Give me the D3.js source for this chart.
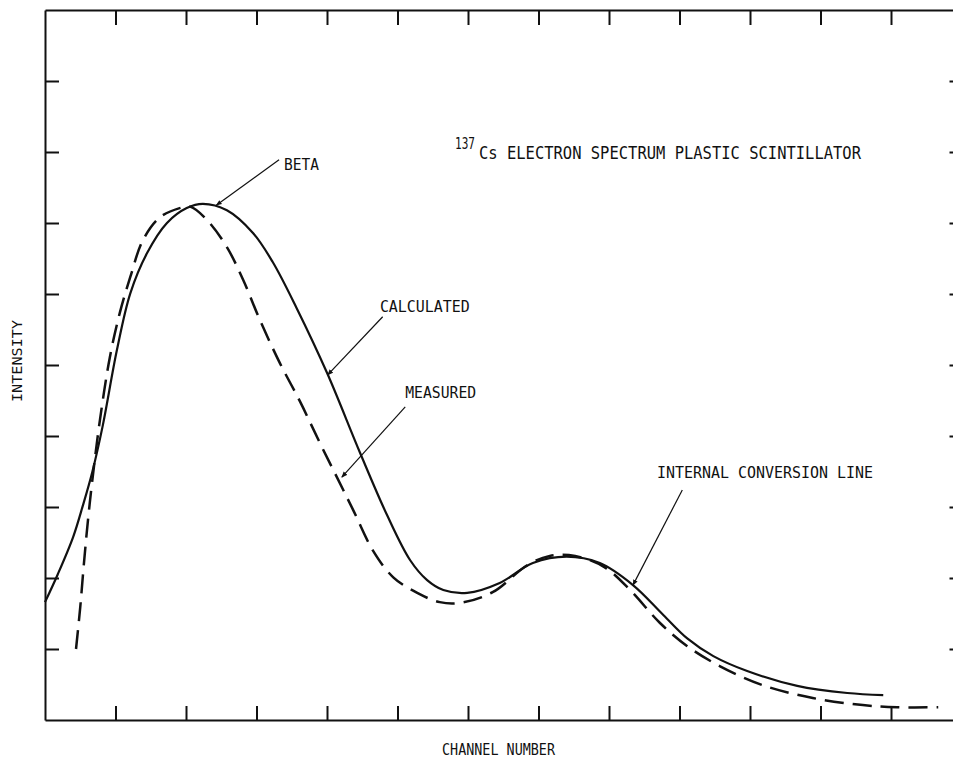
<!DOCTYPE html>
<html>
<head>
<meta charset="utf-8">
<script src="https://cdnjs.cloudflare.com/ajax/libs/d3/7.8.5/d3.min.js"></script>
<style>
  html, body { margin: 0; padding: 0; background: #fff; }
  svg { display: block; }
  text { font-family: "DejaVu Sans Mono", "Liberation Mono", monospace; fill: #111; }
</style>
</head>
<body>
<svg width="953" height="759"></svg>
<script>
// channel number (x) / intensity (y), arbitrary units
const calcX = [0, 0.18, 0.40, 0.54, 0.67, 0.82, 1.02, 1.21, 1.45, 1.73, 2.01, 2.24, 2.58, 2.95, 3.23, 3.57, 4.00, 4.47, 4.85, 5.18, 5.42, 5.65, 5.99, 6.45, 6.92, 7.40, 7.87, 8.34, 8.77, 9.11, 9.48, 9.96, 10.67, 11.38, 11.89]
const calcY = [1.66, 2.05, 2.58, 3.03, 3.49, 4.15, 5.21, 6.01, 6.58, 7.00, 7.21, 7.27, 7.18, 6.86, 6.45, 5.80, 4.89, 3.76, 2.89, 2.25, 1.97, 1.83, 1.79, 1.93, 2.21, 2.30, 2.21, 1.90, 1.48, 1.15, 0.90, 0.69, 0.48, 0.38, 0.35]

const measX = [0.44, 0.50, 0.55, 0.61, 0.68, 0.78, 0.92, 1.06, 1.21, 1.39, 1.63, 1.91, 2.06, 2.30, 2.58, 2.81, 3.05, 3.33, 3.62, 3.90, 4.14, 4.37, 4.65, 4.94, 5.28, 5.60, 5.89, 6.35, 6.84, 7.16, 7.52, 7.94, 8.30, 8.72, 9.11, 9.57, 10.18, 10.89, 11.60, 12.09, 12.67]
const measY = [1.00, 1.59, 2.18, 2.82, 3.45, 4.23, 5.11, 5.73, 6.24, 6.76, 7.08, 7.21, 7.23, 7.04, 6.66, 6.20, 5.63, 5.03, 4.48, 3.90, 3.42, 2.96, 2.39, 2.01, 1.79, 1.66, 1.65, 1.80, 2.18, 2.31, 2.31, 2.15, 1.83, 1.37, 1.04, 0.76, 0.49, 0.31, 0.21, 0.18, 0.18]

const xTicks = [1, 2, 3, 4, 5, 6, 7, 8, 9, 10, 11, 12]
const yTicks = [1, 2, 3, 4, 5, 6, 7, 8, 9]

// callouts: label, text anchor point, leader start, leader end (data units)
const noteText = ["BETA", "CALCULATED", "MEASURED", "INTERNAL CONVERSION LINE"]
const noteAt = [[3.39, 7.75], [4.75, 5.75], [5.11, 4.54], [8.68, 3.41]]
const noteFrom = [[3.32, 7.89], [4.79, 5.68], [5.11, 4.41], [9.04, 3.24]]
const noteTo = [[2.43, 7.25], [4.01, 4.86], [4.21, 3.42], [8.34, 1.90]]
const noteLen = [35, 90, 71, 216]

const svg = d3.select("svg")
const mLeft = 45, mTop = 10, mRight = 961.5, mBottom = 720

const x = d3.scaleLinear().domain([0, 13]).range([mLeft, mRight])
const y = d3.scaleLinear().domain([0, 10]).range([mBottom, mTop])

function styleAxis(g) {
    g.selectAll("path").attr("stroke", "#111").attr("stroke-width", 2)
    g.selectAll("line").attr("stroke", "#111").attr("stroke-width", 2)
    g.selectAll("text").remove()
}

svg.append("g").attr("transform", `translate(0,${mBottom})`)
    .call(d3.axisBottom(x).tickValues(xTicks).tickSize(-14).tickSizeOuter(0).tickFormat(""))
    .call(styleAxis)
svg.append("g").attr("transform", `translate(0,${mTop})`)
    .call(d3.axisTop(x).tickValues(xTicks).tickSize(-15).tickSizeOuter(0).tickFormat(""))
    .call(styleAxis)
svg.append("g").attr("transform", `translate(${mLeft},0)`)
    .call(d3.axisLeft(y).tickValues(yTicks).tickSize(-14).tickSizeOuter(0).tickFormat(""))
    .call(styleAxis)
svg.append("g").attr("transform", `translate(${mRight},0)`)
    .call(d3.axisRight(y).tickValues(yTicks).tickSize(-12).tickSizeOuter(0).tickFormat(""))
    .call(styleAxis)

const line = d3.line()
    .x(d => x(d[0]))
    .y(d => y(d[1]))
    .curve(d3.curveCatmullRom.alpha(0.5))

svg.append("path")
    .datum(d3.zip(calcX, calcY))
    .attr("d", line)
    .attr("fill", "none")
    .attr("stroke", "#111")
    .attr("stroke-width", 2.2)

svg.append("path")
    .datum(d3.zip(measX, measY))
    .attr("d", line)
    .attr("fill", "none")
    .attr("stroke", "#111")
    .attr("stroke-width", 2.5)
    .attr("stroke-dasharray", "19,9")

// small arrow heads on the leaders
svg.append("defs").append("marker")
    .attr("id", "arr")
    .attr("viewBox", "0 0 10 10")
    .attr("refX", 9).attr("refY", 5)
    .attr("markerWidth", 5).attr("markerHeight", 5)
    .attr("orient", "auto")
    .append("path").attr("d", "M0,1L10,5L0,9z").attr("fill", "#111")

noteText.forEach((t, i) => {
    svg.append("line")
        .attr("x1", x(noteFrom[i][0])).attr("y1", y(noteFrom[i][1]))
        .attr("x2", x(noteTo[i][0])).attr("y2", y(noteTo[i][1]))
        .attr("stroke", "#111").attr("stroke-width", 1.2)
        .attr("marker-end", "url(#arr)")
    svg.append("text")
        .attr("x", x(noteAt[i][0])).attr("y", y(noteAt[i][1]))
        .attr("font-size", 16.5)
        .attr("textLength", noteLen[i])
        .attr("lengthAdjust", "spacingAndGlyphs")
        .text(t)
})

// title with superscript mass number
svg.append("text")
    .attr("x", 455).attr("y", 149)
    .attr("font-size", 16)
    .attr("textLength", 20).attr("lengthAdjust", "spacingAndGlyphs")
    .text("137")
svg.append("text")
    .attr("x", 479).attr("y", 159)
    .attr("font-size", 17)
    .attr("textLength", 382).attr("lengthAdjust", "spacingAndGlyphs")
    .text("Cs ELECTRON SPECTRUM PLASTIC SCINTILLATOR")

svg.append("text")
    .attr("x", 442).attr("y", 755)
    .attr("font-size", 15)
    .attr("textLength", 113).attr("lengthAdjust", "spacingAndGlyphs")
    .text("CHANNEL NUMBER")

svg.append("text")
    .attr("transform", "translate(22,402) rotate(-90)")
    .attr("font-size", 14)
    .attr("textLength", 82).attr("lengthAdjust", "spacingAndGlyphs")
    .text("INTENSITY")
</script>
</body>
</html>
